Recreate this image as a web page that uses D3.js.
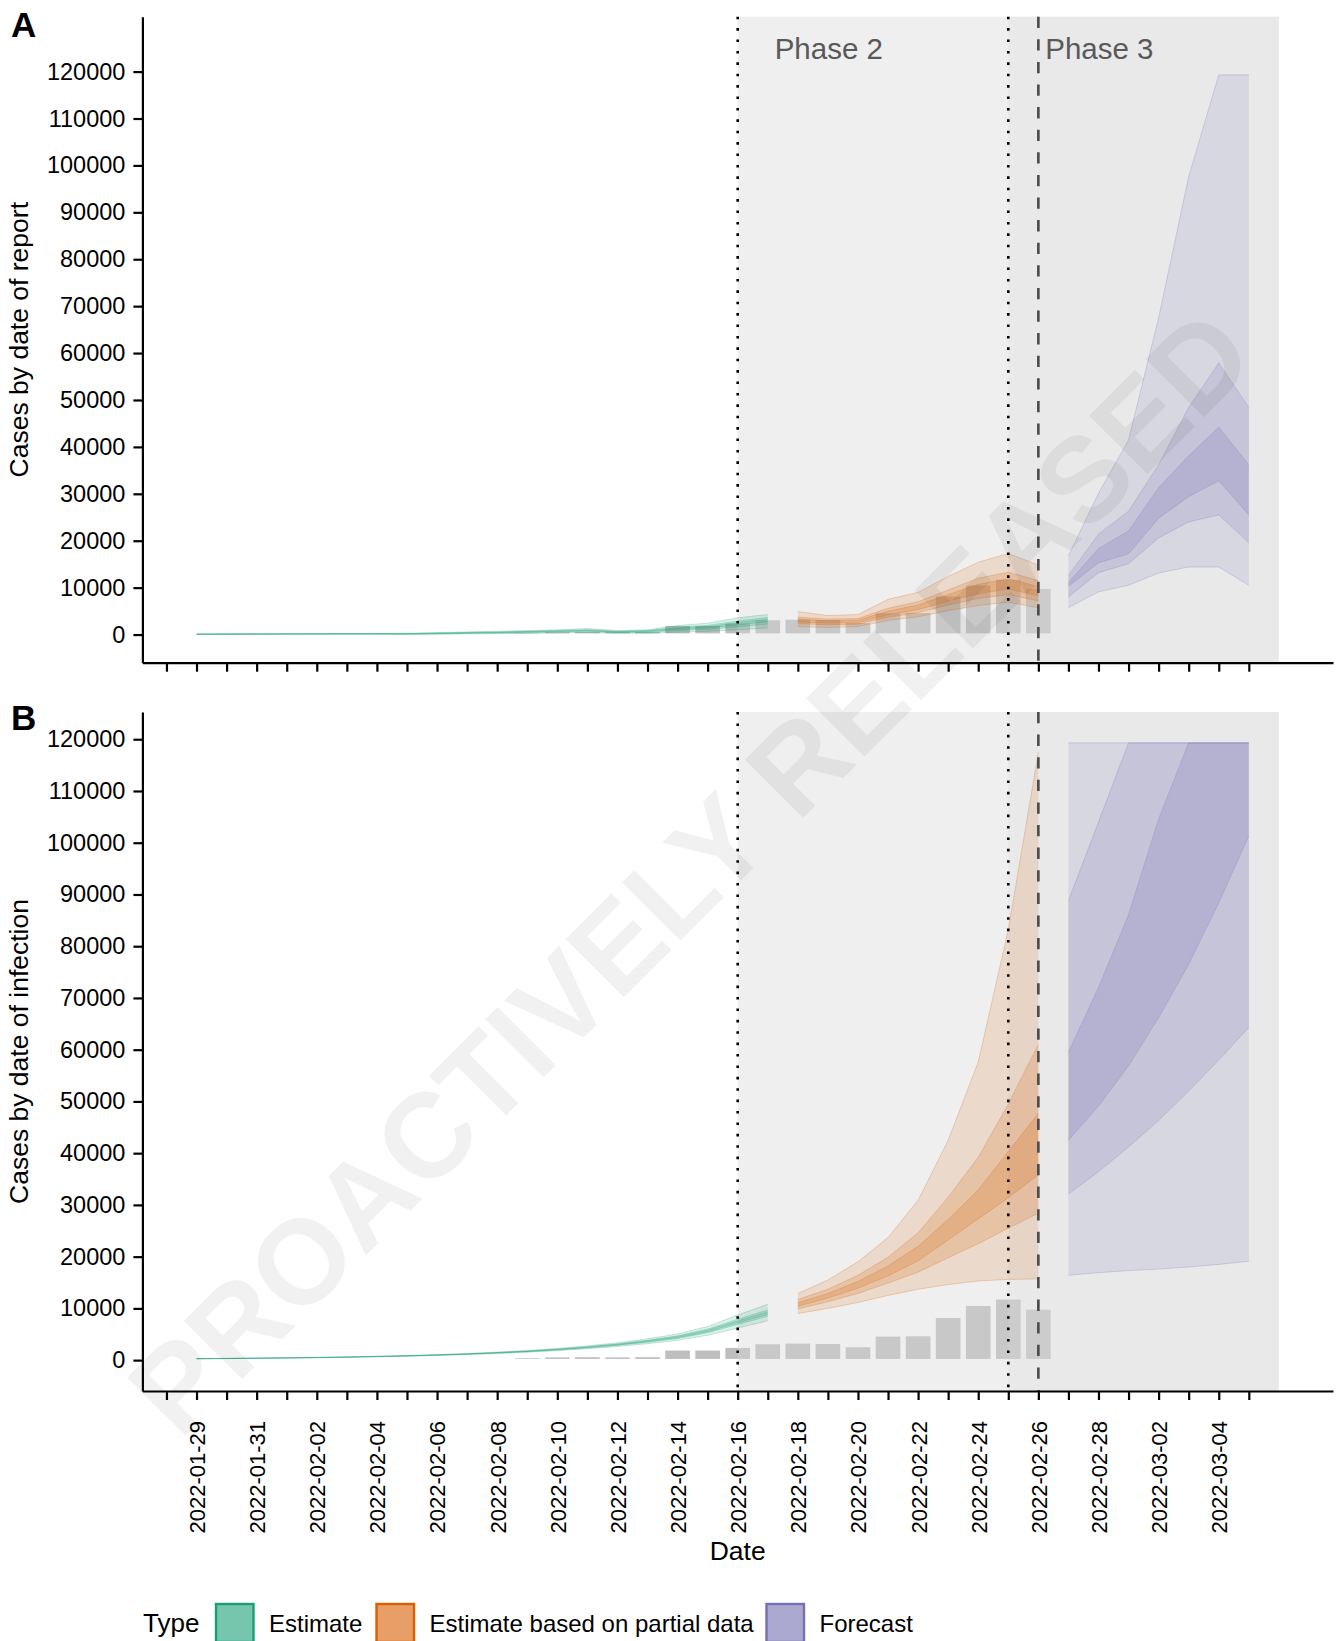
<!DOCTYPE html>
<html><head><meta charset="utf-8">
<script src="https://cdn.jsdelivr.net/npm/d3@7/dist/d3.min.js"></script>
<style>
html,body{margin:0;padding:0;background:#fff;}
svg{display:block;font-family:"Liberation Sans",Arial,Helvetica,sans-serif;}
</style></head><body>
<svg id="chart" width="1338" height="1641"></svg>
<script>
// ---------------- DATA ----------------
const barDates = ["2022-02-09","2022-02-10","2022-02-11","2022-02-12","2022-02-13","2022-02-14","2022-02-15","2022-02-16","2022-02-17","2022-02-18","2022-02-19","2022-02-20","2022-02-21","2022-02-22","2022-02-23","2022-02-24","2022-02-25","2022-02-26"];
const barValues = [600,750,800,750,800,2080,2080,2590,3300,3430,3360,2720,4780,4840,8380,10700,11930,9990];

const estimateDates = ["2022-01-29","2022-01-30","2022-01-31","2022-02-01","2022-02-02","2022-02-03","2022-02-04","2022-02-05","2022-02-06","2022-02-07","2022-02-08","2022-02-09","2022-02-10","2022-02-11","2022-02-12","2022-02-13","2022-02-14","2022-02-15","2022-02-16","2022-02-17"];
const partialDates = ["2022-02-18","2022-02-19","2022-02-20","2022-02-21","2022-02-22","2022-02-23","2022-02-24","2022-02-25","2022-02-26"];
const forecastDates = ["2022-02-27","2022-02-28","2022-03-01","2022-03-02","2022-03-03","2022-03-04","2022-03-05"];

// rows: [lower90, lower50, lower20, upper20, upper50, upper90]
const reportEstimate = [
  [50,70,80,95,105,140],[55,75,90,105,115,155],[60,85,100,115,130,175],[70,95,110,130,145,195],
  [75,100,115,135,150,210],[80,110,125,150,165,230],[85,115,135,160,180,250],[40,90,120,160,190,280],
  [70,160,210,290,340,430],[140,250,310,400,460,570],[210,320,390,480,560,710],[280,420,510,630,700,850],
  [360,530,640,780,860,1000],[430,640,770,940,1050,1280],[280,420,510,630,700,850],[280,500,630,790,860,1000],
  [500,860,1080,1350,1550,1920],[710,1150,1420,1730,1950,2420],[1000,1650,2050,2550,2900,3560],[1420,2250,2750,3300,3650,4270]
];
const reportPartial = [
  [1700,2300,2700,3300,3700,4900],[1500,2100,2450,2950,3300,4050],[1700,2200,2550,3050,3400,4270],
  [3000,3700,4200,5000,5600,7500],[3800,4700,5300,6300,7000,9000],[5100,6300,7100,8500,9500,12400],
  [6200,7700,8700,10700,12000,15400],[6900,8500,9700,11900,13300,17300],[5700,7200,8300,10200,11500,14800]
];
const reportForecast = [
  [5700,8000,10300,11100,12600,16800],[9100,13200,15300,18300,21400,30100],[10500,15100,17200,22100,26300,41500],
  [13100,20600,24800,31300,36200,67500],[14400,24000,29400,38100,48400,97600],[14400,25500,32800,44200,57900,119300],
  [10500,19600,25500,36200,48400,119300]
];
const infectionEstimate = [
  [260,272,277,283,288,300],[297,311,316,324,329,344],[342,358,365,375,382,398],[397,416,424,436,444,463],
  [460,483,492,508,517,540],[541,569,580,600,611,640],[640,674,688,712,726,760],[757,798,815,845,862,903],
  [900,952,973,1007,1028,1080],[1070,1135,1160,1200,1225,1290],[1280,1360,1392,1448,1480,1560],[1530,1630,1668,1732,1770,1870],
  [1830,1960,2006,2094,2140,2270],[2200,2360,2425,2535,2600,2760],[2640,2850,2930,3070,3150,3360],[3180,3450,3560,3740,3850,4120],
  [3830,4190,4330,4570,4710,5070],[4800,5300,5500,5800,6000,6500],[6200,6900,7200,7600,7900,8700],[7600,8500,8850,9350,9700,10800]
];
const infectionPartial = [
  [9000,9900,10400,11100,11700,12900],[10000,11300,12000,12900,13700,15500],[11150,12900,13900,15200,16400,19000],
  [12500,14900,16300,18200,19900,23700],[13700,17000,19200,22000,24600,30900],[14600,19800,23200,27200,31500,42500],
  [15300,22500,27300,32900,39200,57600],[15600,25500,31400,40300,49500,83200],[15700,28400,35800,47700,61000,117500]
];
const infectionForecast = [
  [16400,32100,42500,59500,88800,119300],[16900,36400,49100,72000,104000,119300],[17300,41200,56900,86100,119300,119300],
  [17600,46300,66200,104600,119300,119300],[18000,52000,76500,119300,119300,119300],[18500,58000,88400,119300,119300,119300],
  [19100,64300,101300,119300,119300,119300]
];

const yTickValues = [0,10000,20000,30000,40000,50000,60000,70000,80000,90000,100000,110000,120000];
const xTickLabels = ["2022-01-29","2022-01-31","2022-02-02","2022-02-04","2022-02-06","2022-02-08","2022-02-10","2022-02-12","2022-02-14","2022-02-16","2022-02-18","2022-02-20","2022-02-22","2022-02-24","2022-02-26","2022-02-28","2022-03-02","2022-03-04"];
const phaseNames = ["Phase 2","Phase 3"];
const phaseStarts = ["2022-02-16","2022-02-25"];
const forecastStart = "2022-02-26";
const typeNames = ["Estimate","Estimate based on partial data","Forecast"];
const panelTitles = ["Cases by date of report","Cases by date of infection"];
const panelLetters = ["A","B"];

// ---------------- LAYOUT ----------------
const parse = d3.utcParse("%Y-%m-%d");
const DAY = 864e5;
const dataStart = parse("2022-01-29"), dataEnd = parse("2022-03-06");
const pad = (dataEnd - dataStart) * 0.05;
const plotLeft = 142.4, plotRight = 1333;
const x = d3.scaleUtc().domain([new Date(+dataStart - pad), new Date(+dataEnd + pad)]).range([plotLeft, plotRight]);
const typeColors = ["#1b9e77","#d95f02","#7570b3"];
const bandAlpha = [0.15, 0.18, 0.2];

const svg = d3.select("#chart");

function drawPanel(cfg) {
  const y = d3.scaleLinear().domain(cfg.yDomain).range([cfg.bottom, cfg.top]);
  const g = svg.append("g");

  // bars
  g.append("g").selectAll("rect").data(barDates.map((d,i)=>({date:parse(d), v:barValues[i]})))
    .join("rect")
    .attr("x", d => x(+d.date - 0.45*DAY))
    .attr("width", d => x(+d.date + 0.45*DAY) - x(+d.date - 0.45*DAY))
    .attr("y", d => y(d.v))
    .attr("height", d => y(0) - y(d.v))
    .attr("fill", "#bebebe")
    .attr("stroke", "#fff")
    .attr("stroke-width", 2.4);

  // phase shading
  const shadeEnd = x(dataEnd);
  g.append("rect").attr("x", x(parse(phaseStarts[0]))).attr("y", cfg.top)
    .attr("width", shadeEnd - x(parse(phaseStarts[0]))).attr("height", cfg.bottom - cfg.top)
    .attr("fill", "rgb(215,215,215)").attr("fill-opacity", 0.4);
  g.append("rect").attr("x", x(parse(phaseStarts[1]))).attr("y", cfg.top)
    .attr("width", shadeEnd - x(parse(phaseStarts[1]))).attr("height", cfg.bottom - cfg.top)
    .attr("fill", "rgb(215,215,215)").attr("fill-opacity", 0.25);

  // ribbons
  const series = [
    {dates: estimateDates, rows: cfg.estimate, c: typeColors[0]},
    {dates: partialDates, rows: cfg.partial, c: typeColors[1]},
    {dates: forecastDates, rows: cfg.forecast, c: typeColors[2]}
  ];
  series.forEach(s => {
    const pts = s.dates.map((d,i) => ({date: parse(d), r: s.rows[i]}));
    for (let k = 0; k < 3; k++) {
      const area = d3.area().x(p => x(p.date)).y0(p => y(p.r[k])).y1(p => y(p.r[5-k]));
      g.append("path").attr("d", area(pts)).attr("fill", s.c).attr("fill-opacity", bandAlpha[k]).attr("stroke", "none");
      [k, 5-k].forEach(j => {
        const line = d3.line().x(p => x(p.date)).y(p => y(p.r[j]));
        g.append("path").attr("d", line(pts)).attr("fill", "none").attr("stroke", s.c)
          .attr("stroke-opacity", 0.35).attr("stroke-width", 0.7);
      });
    }
  });

  // vertical lines
  phaseStarts.forEach(p => {
    g.append("line").attr("x1", x(parse(p))).attr("x2", x(parse(p)))
      .attr("y1", cfg.top).attr("y2", cfg.bottom)
      .attr("stroke", "#000").attr("stroke-width", 2.6).attr("stroke-dasharray", "2.6 8.8");
  });
  g.append("line").attr("x1", x(parse(forecastStart))).attr("x2", x(parse(forecastStart)))
    .attr("y1", cfg.top).attr("y2", cfg.bottom)
    .attr("stroke", "#4a4a4a").attr("stroke-width", 2.6).attr("stroke-dasharray", "11.3 11.3");

  if (cfg.phaseText) {
    phaseNames.forEach((n,i) => {
      g.append("text").attr("x", x(parse(phaseStarts[i])) + 37).attr("y", cfg.top + 42.5)
        .attr("font-size", 29.5).attr("fill", "#595959").text(n);
    });
  }

  // y axis
  const ya = g.append("g").attr("transform", `translate(${plotLeft},0)`)
    .call(d3.axisLeft(y).tickValues(yTickValues).tickSize(9).tickPadding(8).tickSizeOuter(0).tickFormat(d3.format("d")));
  ya.select(".domain").attr("stroke", "#000").attr("stroke-width", 2.2);
  ya.selectAll(".tick line").attr("stroke", "#000").attr("stroke-width", 2.2);
  ya.selectAll(".tick text").attr("font-size", 23.5).attr("fill", "#000").attr("font-family", null);

  // x axis
  const tickDates = d3.utcDay.range(parse("2022-01-28"), parse("2022-03-06"));
  const fmt = d3.utcFormat("%Y-%m-%d");
  const xa = g.append("g").attr("transform", `translate(0,${cfg.bottom})`)
    .call(d3.axisBottom(x).tickValues(tickDates).tickSize(9).tickSizeOuter(0)
      .tickFormat(d => cfg.xLabels && xTickLabels.includes(fmt(d)) ? fmt(d) : ""));
  xa.select(".domain").attr("stroke", "#000").attr("stroke-width", 2.2);
  xa.selectAll(".tick line").attr("stroke", "#000").attr("stroke-width", 2.2);
  xa.selectAll(".tick text").attr("font-size", 22).attr("fill", "#000").attr("font-family", null)
    .attr("transform", "rotate(-90)").attr("text-anchor", "end")
    .attr("x", -30).attr("y", 0).attr("dy", "0.36em");

  // titles
  svg.append("text").attr("transform", `translate(28,${(cfg.top+cfg.bottom)/2}) rotate(-90)`)
    .attr("text-anchor", "middle").attr("font-size", 26.5).attr("fill", "#000").text(cfg.title);
  svg.append("text").attr("x", 11).attr("y", cfg.letterY).attr("font-size", 35).attr("font-weight", "bold")
    .attr("fill", "#000").text(cfg.letter);
}

drawPanel({top: 16.7, bottom: 662.7, yDomain: [-6000, 131700], estimate: reportEstimate, partial: reportPartial,
  forecast: reportForecast, xLabels: false, phaseText: true, title: panelTitles[0], letter: panelLetters[0], letterY: 37});
drawPanel({top: 712, bottom: 1391, yDomain: [-5965, 125265], estimate: infectionEstimate, partial: infectionPartial,
  forecast: infectionForecast, xLabels: true, phaseText: false, title: panelTitles[1], letter: panelLetters[1], letterY: 729.5});

// x title
svg.append("text").attr("x", (plotLeft + plotRight)/2).attr("y", 1560).attr("text-anchor", "middle")
  .attr("font-size", 26.5).attr("fill", "#000").text("Date");

// legend
const legend = svg.append("g");
legend.append("text").attr("x", 143).attr("y", 1632).attr("font-size", 26).attr("fill", "#000").text("Type");
const keyX = [216, 376.5, 766.5];
typeNames.forEach((n,i) => {
  legend.append("rect").attr("x", keyX[i]).attr("y", 1604).attr("width", 37.5).attr("height", 38)
    .attr("fill", typeColors[i]).attr("fill-opacity", 0.6)
    .attr("stroke", typeColors[i]).attr("stroke-width", 2.4);
  legend.append("text").attr("x", keyX[i] + 53).attr("y", 1632).attr("font-size", 24).attr("fill", "#000").text(n);
});

// watermark
svg.append("text").attr("transform", "translate(690,872) rotate(-45)")
  .attr("text-anchor", "middle").attr("dominant-baseline", "central")
  .attr("font-size", 120).attr("font-weight", "bold").attr("fill", "#000").attr("fill-opacity", 0.055)
  .text("PROACTIVELY RELEASED");
</script>
</body></html>
